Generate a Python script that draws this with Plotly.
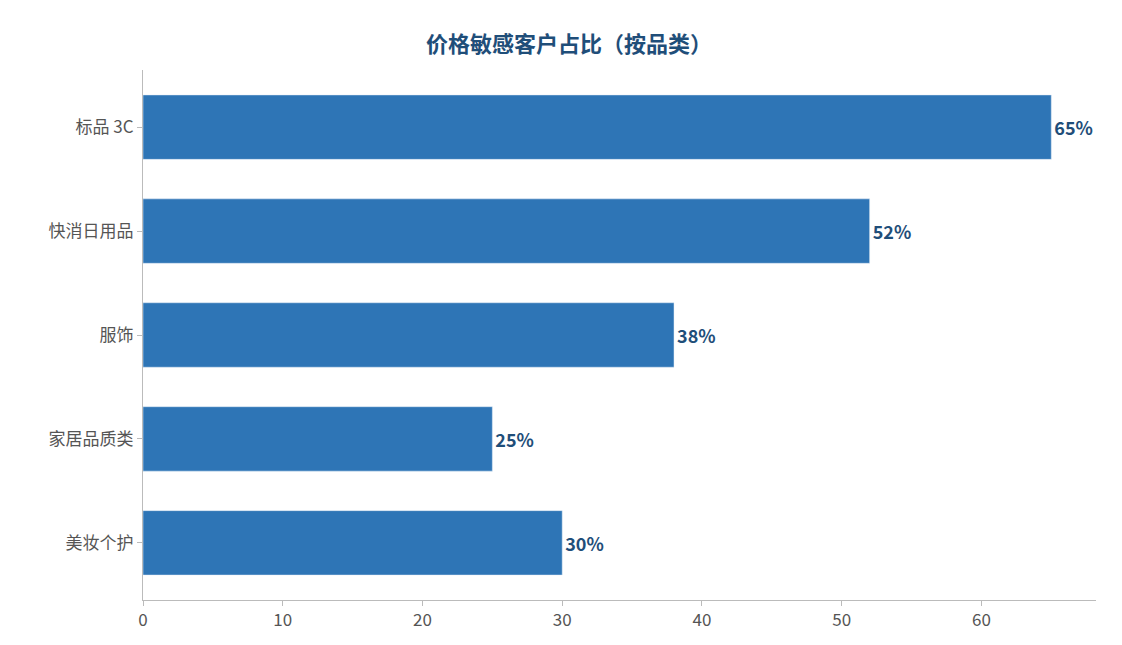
import plotly.graph_objects as go

categories = ["标品 3C", "快消日用品", "服饰", "家居品质类", "美妆个护"]
values = [65, 52, 38, 25, 30]
labels = [f"{v}%" for v in values]

fig = go.Figure()
fig.add_trace(go.Bar(
    x=values, y=categories, orientation="h",
    marker=dict(color="#2e75b6"),
    width=0.62,
    text=labels, textposition="outside",
    textfont=dict(color="#1f4e79", size=18, family="Noto Sans CJK SC"),
    cliponaxis=False,
))

fig.update_layout(
    width=1122, height=645,
    margin=dict(l=135, r=34, t=62, b=53),
    plot_bgcolor="white", paper_bgcolor="white",
    font=dict(family="Noto Sans CJK SC", size=17, color="#555555"),
    title=dict(text="<b>价格敏感客户占比（按品类）</b>", x=0.5, xanchor="center",
               y=0.955, font=dict(size=22, color="#1f4e79")),
    showlegend=False,
    xaxis=dict(range=[0, 68.2], dtick=10, showgrid=False, zeroline=False,
               showline=True, linecolor="#bbbbbb", ticks="outside", ticklen=5,
               tickcolor="#bbbbbb"),
    yaxis=dict(autorange=False, range=[4.55, -0.55], type="category", showgrid=False,
               showline=True, linecolor="#bbbbbb", ticks="outside", ticklen=5,
               tickcolor="#bbbbbb"),
)
fig.update_traces(texttemplate="<b>%{text}</b>")

fig.write_html("out.html")
